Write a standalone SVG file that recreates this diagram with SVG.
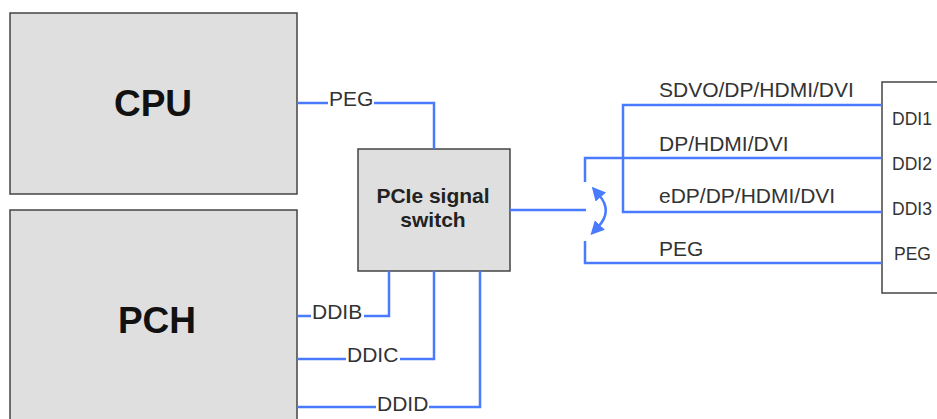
<svg xmlns="http://www.w3.org/2000/svg" width="937" height="419" viewBox="0 0 937 419">
<style>
.box{fill:#dfdfdf;stroke:#444;stroke-width:1.5}
.wbox{fill:#fff;stroke:#444;stroke-width:1.5}
.ln{fill:none;stroke:#4a7bff;stroke-width:2.5}
.big{font-family:"Liberation Sans",Arial,sans-serif;font-weight:bold;font-size:37px;fill:#111;text-anchor:middle}
.sw{font-family:"Liberation Sans",Arial,sans-serif;font-weight:bold;font-size:21px;fill:#222;text-anchor:middle}
.lb{font-family:"Liberation Sans",Arial,sans-serif;font-size:21px;fill:#333}
.pl{font-family:"Liberation Sans",Arial,sans-serif;font-size:17.5px;fill:#333}
.bg{fill:#fff}
</style>
<defs>
<marker id="ah" viewBox="0 0 10 10" refX="2" refY="5" markerWidth="5.5" markerHeight="5.5" orient="auto-start-reverse" markerUnits="strokeWidth">
<path d="M0,0 L10,5 L0,10 z" fill="#4a7bff"/>
</marker>
</defs>
<g id="cpu"><rect class="box" x="10" y="13" width="287" height="181"/><text class="big" x="153" y="116">CPU</text></g>
<g id="pch"><rect class="box" x="10" y="210" width="287" height="230"/><text class="big" x="157" y="333">PCH</text></g>
<g id="switch"><rect class="box" x="358" y="149" width="152" height="122"/><text class="sw" x="433" y="203">PCIe signal</text><text class="sw" x="433" y="227">switch</text></g>
<g id="display"><rect class="wbox" x="882" y="82" width="80" height="211"/>
<text class="pl" x="892" y="125">DDI1</text><text class="pl" x="892" y="170">DDI2</text><text class="pl" x="892" y="215">DDI3</text><text class="pl" x="894" y="260">PEG</text></g>
<g id="connectors">
<path class="ln" d="M297,103 H434 V149"/>
<path class="ln" d="M297,316 H389 V271"/>
<path class="ln" d="M297,359 H434 V271"/>
<path class="ln" d="M297,407 H480 V271"/>
<path class="ln" d="M510,210 H586"/>
<path class="ln" d="M585,182 V158 H882"/>
<path class="ln" d="M585,241 V263 H882"/>
<path class="ln" d="M882,105 H623 V212 H882"/>
<path class="ln" d="M599,195 Q613,211 598,227" stroke-width="2" marker-start="url(#ah)" marker-end="url(#ah)"/>
</g>
<g id="labels">
<rect class="bg" x="328" y="92" width="46" height="16"/><text class="lb" x="329" y="106">PEG</text>
<rect class="bg" x="311" y="304" width="53" height="16"/><text class="lb" x="312" y="319">DDIB</text>
<rect class="bg" x="346" y="347" width="54" height="16"/><text class="lb" x="347" y="362">DDIC</text>
<rect class="bg" x="376" y="396" width="53" height="16"/><text class="lb" x="377" y="411">DDID</text>
<text class="lb" x="659" y="97">SDVO/DP/HDMI/DVI</text>
<text class="lb" x="659" y="151">DP/HDMI/DVI</text>
<text class="lb" x="659" y="203">eDP/DP/HDMI/DVI</text>
<text class="lb" x="659" y="256">PEG</text>
</g>
</svg>
